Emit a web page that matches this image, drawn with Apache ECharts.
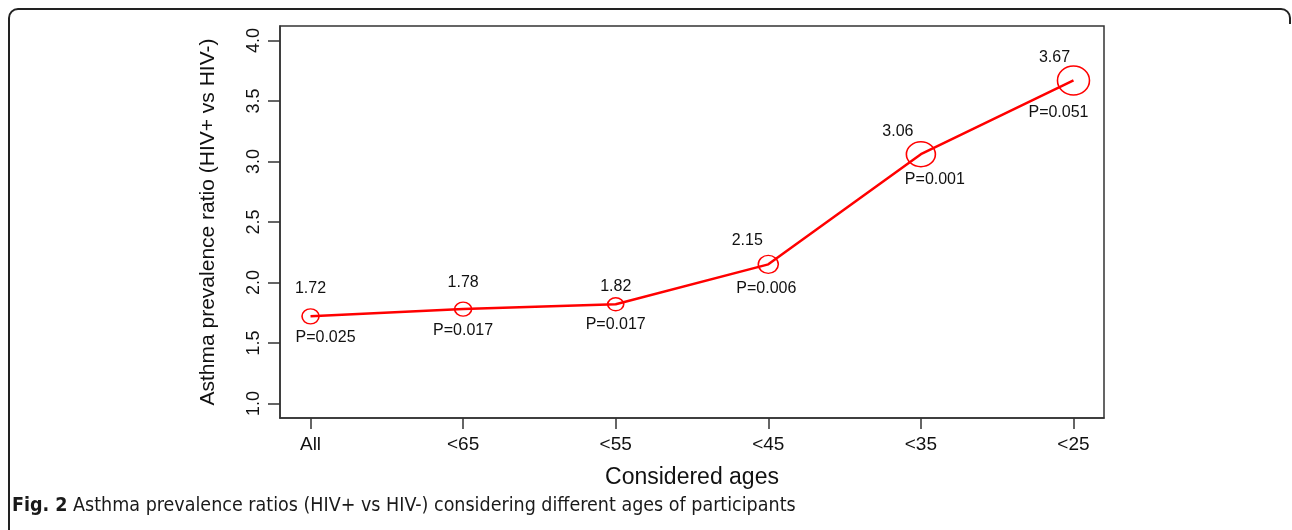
<!DOCTYPE html>
<html>
<head>
<meta charset="utf-8">
<script src="https://cdn.jsdelivr.net/npm/echarts@6/dist/echarts.min.js"></script>
<style>
html,body{margin:0;padding:0;background:#fff;}
#chart{width:1292px;height:530px;}
</style>
</head>
<body>
<div id="chart"></div>
<script>
// ---- data ----
const categories = ['All', '<65', '<55', '<45', '<35', '<25'];
const ratios = [1.72, 1.78, 1.82, 2.15, 3.06, 3.67];
const pValues = ['P=0.025', 'P=0.017', 'P=0.017', 'P=0.006', 'P=0.001', 'P=0.051'];
const yTicks = [1.0, 1.5, 2.0, 2.5, 3.0, 3.5, 4.0];

// ---- styling (marker sizes and label offsets) ----
const markerSizes = [[17, 15], [17, 14], [16, 13], [20, 18], [29, 25], [32, 29]];
const valueLabelOffsets = [[0, -28], [0, -27], [0, -18], [-21, -24], [-23, -23], [-19, -23]];
const pLabelOffsets = [[15, 21], [0, 21], [0, 20], [-2, 24], [14, 25], [-15, 32]];

const chart = echarts.init(document.getElementById('chart'));
const xIdx = categories.map((c, i) => i);

const lineData = ratios.map((v, i) => ({
  value: [i, v],
  symbolSize: markerSizes[i],
  label: { offset: valueLabelOffsets[i] }
}));
const pData = ratios.map((v, i) => ({
  value: [i, v],
  label: { offset: pLabelOffsets[i] }
}));

const textColor = '#111';
const font = 'Liberation Sans, Arial, Helvetica, sans-serif';
const capFont = 'DejaVu Sans Condensed, sans-serif';
const frameStyle = { stroke: '#222', lineWidth: 2, fill: null };
const axisLineStyle = { color: '#333', width: 1.5 };

chart.setOption({
  animation: false,
  backgroundColor: '#fff',
  grid: {
    left: 280, right: 188, top: 26, bottom: 112,
    show: true, borderColor: '#333', borderWidth: 1.5, backgroundColor: 'transparent'
  },
  xAxis: {
    type: 'value',
    min: -0.2, max: 5.2,
    name: 'Considered ages',
    nameLocation: 'middle',
    nameGap: 48,
    nameTextStyle: { fontSize: 23, color: textColor, fontFamily: font },
    axisLine: { show: true, onZero: false, lineStyle: axisLineStyle },
    splitLine: { show: false },
    axisTick: { show: true, inside: false, length: 11, customValues: xIdx, lineStyle: axisLineStyle },
    axisLabel: {
      customValues: xIdx,
      margin: 17,
      fontSize: 19, color: textColor, fontFamily: font,
      formatter: v => categories[Math.round(v)]
    }
  },
  yAxis: {
    type: 'value',
    min: 0.88, max: 4.12,
    name: 'Asthma prevalence ratio (HIV+ vs HIV-)',
    nameLocation: 'middle',
    nameGap: 61,
    nameRotate: 90,
    nameTextStyle: { fontSize: 21, color: textColor, fontFamily: font },
    axisLine: { show: true, onZero: false, lineStyle: axisLineStyle },
    splitLine: { show: false },
    axisTick: { show: true, inside: false, length: 12, customValues: yTicks, lineStyle: axisLineStyle },
    axisLabel: {
      customValues: yTicks,
      rotate: 90,
      margin: 17,
      fontSize: 18, color: textColor, fontFamily: font,
      formatter: v => v.toFixed(1)
    }
  },
  series: [
    {
      type: 'line',
      data: lineData,
      symbol: 'circle',
      lineStyle: { color: '#ff0000', width: 2.5 },
      itemStyle: { color: 'rgba(0,0,0,0)', borderColor: '#ff0000', borderWidth: 1.5 },
      label: {
        show: true, position: 'inside',
        fontSize: 16, color: textColor, fontFamily: font, textBorderWidth: 0,
        formatter: p => ratios[p.dataIndex].toFixed(2)
      },
      z: 3
    },
    {
      type: 'scatter',
      data: pData,
      symbolSize: 0,
      itemStyle: { color: '#000', opacity: 1 },
      label: {
        show: true, position: 'inside',
        fontSize: 16, color: textColor, fontFamily: font, textBorderWidth: 0, opacity: 1,
        formatter: p => pValues[p.dataIndex]
      },
      silent: true,
      z: 4
    }
  ],
  graphic: [
    { type: 'line', shape: { x1: 9, y1: 18, x2: 9, y2: 530 }, style: frameStyle },
    { type: 'line', shape: { x1: 18, y1: 9, x2: 1281, y2: 9 }, style: frameStyle },
    { type: 'line', shape: { x1: 1290, y1: 18, x2: 1290, y2: 24 }, style: frameStyle },
    { type: 'arc', shape: { cx: 18, cy: 18, r: 9, startAngle: Math.PI, endAngle: Math.PI * 1.5 }, style: frameStyle },
    { type: 'arc', shape: { cx: 1281, cy: 18, r: 9, startAngle: Math.PI * 1.5, endAngle: Math.PI * 2 }, style: frameStyle },
    {
      type: 'text',
      left: 12, top: 496,
      style: {
        text: '{b|Fig. 2} Asthma prevalence ratios (HIV+ vs HIV-) considering different ages of participants',
        fontSize: 19.5,
        fontFamily: capFont,
        fill: '#1a1a1a',
        rich: {
          b: { fontWeight: 'bold', fontSize: 19.5, fontFamily: capFont, fill: '#1a1a1a' }
        }
      }
    }
  ]
});
</script>
</body>
</html>
